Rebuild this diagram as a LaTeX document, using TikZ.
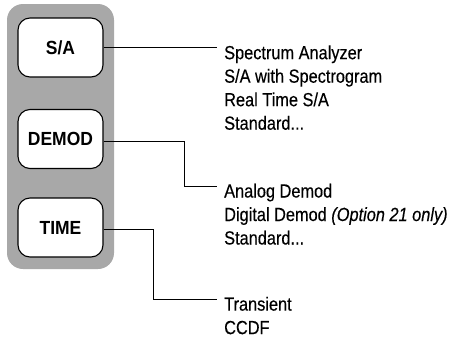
\documentclass[tikz,border=0pt]{standalone}
\usepackage{fontspec}
\setmainfont{Liberation Sans}[FakeStretch=0.86,FakeBold=0.3]
\newfontfamily\btnfont{Liberation Sans}[FakeStretch=0.92]
\begin{document}
\begin{tikzpicture}[x=1pt,y=-1pt,
  panel/.style={fill=panelgray, draw=none, rounded corners=16pt},
  btn/.style={draw=black, line width=1.1pt, fill=white, rounded corners=12pt,
    minimum width=85pt, minimum height=59pt, inner sep=0pt,
    font=\btnfont\fontsize{19}{20}\selectfont\bfseries},
  item/.style={anchor=base west, inner sep=0pt, font=\fontsize{19}{22}\selectfont},
  conn/.style={draw=black, line width=0.9pt}]
\definecolor{panelgray}{RGB}{168,168,168}
\useasboundingbox (0,0) rectangle (466,340);
\fill[panel] (7,4) rectangle (114,269);
\node[btn] (bsa) at (60.5,47.5) {S/A};
\node[btn] (bdem) at (60.5,139) {DEMOD};
\node[btn] (btime) at (60.5,227.5) {TIME};
% text items
\node[item] (s1) at (224,59.2) {Spectrum Analyzer};
\node[item] (s2) at (224,82.7) {S/A with Spectrogram};
\node[item] (s3) at (224,106.2) {Real Time S/A};
\node[item] (s4) at (224,129.7) {Standard...};
\node[item] (d1) at (224,197.5) {Analog Demod};
\node[item] (d2) at (224,221) {Digital Demod \textit{(Option 21 only)}};
\node[item] (d3) at (224,244.5) {Standard...};
\node[item] (t1) at (224,310.6) {Transient};
\node[item] (t2) at (224,334.1) {CCDF};
% connector ends
\coordinate (esa) at (217,47.5);
\coordinate (edem) at (217,186);
\coordinate (etime) at (217,299);
\draw[conn] (bsa.east) -- (esa);
\draw[conn] (bdem.east |- 0,141) -- (184,141) |- (edem);
\draw[conn] (btime.east |- 0,229) -- (153,229) |- (etime);
\end{tikzpicture}
\end{document}
